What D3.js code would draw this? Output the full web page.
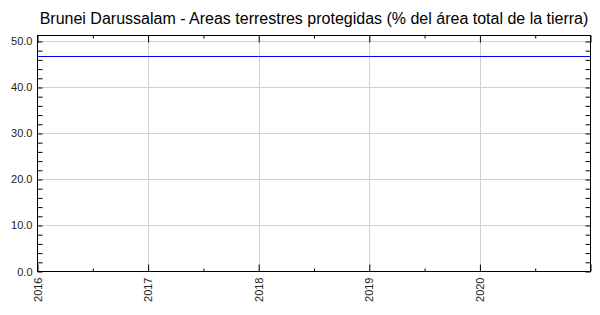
<!DOCTYPE html>
<html>
<head>
<meta charset="utf-8">
<script src="https://cdn.jsdelivr.net/npm/d3@7"></script>
<style>
  body { margin: 0; background: #fff; }
  text { font-family: "Liberation Sans", Arial, sans-serif; }
</style>
</head>
<body>
<svg width="600" height="315"></svg>
<script>
// data
const years = [2016, 2017, 2018, 2019, 2020, 2021];
const values = [46.9, 46.9, 46.9, 46.9, 46.9, 46.9];
const yTicks = [0, 10, 20, 30, 40, 50];
const xTickYears = [2016, 2017, 2018, 2019, 2020];
const title = 'Brunei Darussalam - Areas terrestres protegidas (% del área total de la tierra)';

const svg = d3.select('svg');
const plot = {left: 37.5, right: 590.5, top: 35.5, bottom: 271.5};

const x = d3.scaleLinear().domain([2016, 2021]).range([plot.left, plot.right]);
const y = d3.scaleLinear().domain([0, 51.3]).range([plot.bottom, plot.top]);

// grid
svg.append('g').selectAll('line').data(yTicks.slice(1)).enter().append('line')
   .attr('x1', plot.left).attr('x2', plot.right)
   .attr('y1', d => Math.round(y(d)) + 0.5).attr('y2', d => Math.round(y(d)) + 0.5)
   .attr('stroke', '#d0d0d0');
svg.append('g').selectAll('line').data(xTickYears.slice(1)).enter().append('line')
   .attr('y1', plot.top).attr('y2', plot.bottom)
   .attr('x1', d => Math.round(x(d)) + 0.5).attr('x2', d => Math.round(x(d)) + 0.5)
   .attr('stroke', '#d0d0d0');

// data line
const line = d3.line().x((d, i) => x(years[i])).y(d => Math.round(y(d)) + 0.5);
svg.append('path').datum(values)
   .attr('fill', 'none').attr('stroke', '#0000ff').attr('d', line);

// frame
svg.append('rect').attr('x', plot.left).attr('y', plot.top)
   .attr('width', plot.right - plot.left).attr('height', plot.bottom - plot.top)
   .attr('fill', 'none').attr('stroke', '#000');

// axes with inward ticks
const yMinor = d3.range(0, 51.3, 2);
const xMinor = d3.range(2016, 2021.01, 0.5);

svg.append('g').attr('transform', `translate(${plot.left},0)`)
   .call(d3.axisRight(y).tickValues(yMinor).tickSize(5).tickFormat(''))
   .call(g => g.select('.domain').remove());
svg.append('g').attr('transform', `translate(${plot.right},0)`)
   .call(d3.axisLeft(y).tickValues(yMinor).tickSize(5).tickFormat(''))
   .call(g => g.select('.domain').remove());
svg.append('g').attr('transform', `translate(0,${plot.bottom})`)
   .call(d3.axisTop(x).tickValues(xMinor).tickSizeInner(0).tickFormat(''))
   .call(g => g.select('.domain').remove())
   .call(g => g.selectAll('.tick line').attr('y2', d => Number.isInteger(d) ? -7 : -3));
svg.append('g').attr('transform', `translate(0,${plot.top})`)
   .call(d3.axisBottom(x).tickValues(xMinor).tickSizeInner(0).tickFormat(''))
   .call(g => g.select('.domain').remove())
   .call(g => g.selectAll('.tick line').attr('y2', d => Number.isInteger(d) ? 7 : 3));

// labels
svg.append('g').selectAll('text').data(yTicks).enter().append('text')
   .attr('x', plot.left - 5).attr('y', d => y(d) + 4)
   .attr('text-anchor', 'end').attr('font-size', 11).attr('fill', '#222')
   .text(d => d.toFixed(1));
svg.append('g').selectAll('text').data(xTickYears).enter().append('text')
   .attr('transform', d => `translate(${x(d) + 4},${plot.bottom + 6}) rotate(-90)`)
   .attr('text-anchor', 'end').attr('font-size', 11).attr('fill', '#222')
   .text(d => d);

svg.append('text').attr('x', 314).attr('y', 24)
   .attr('text-anchor', 'middle').attr('font-size', 16).attr('fill', '#000')
   .text(title);
</script>
</body>
</html>
